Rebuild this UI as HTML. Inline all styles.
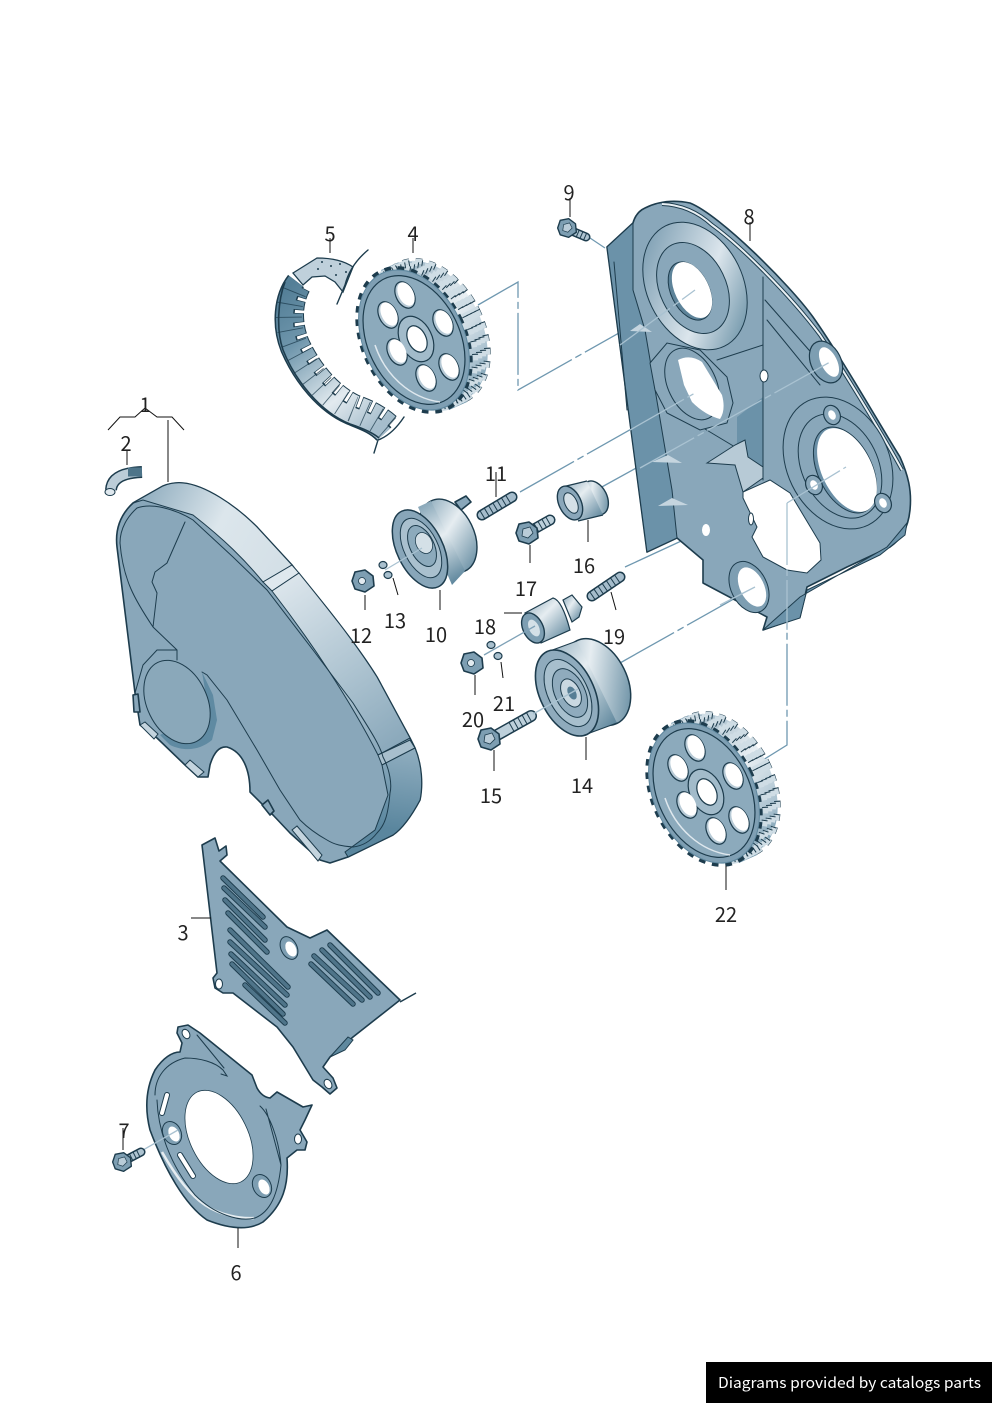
<!DOCTYPE html>
<html>
<head>
<meta charset="utf-8">
<style>
html,body{margin:0;padding:0;background:#fff}
svg{display:block}
.p{fill:#89a7ba;stroke:#1d3c4d;stroke-width:1.6;stroke-linejoin:round}
.l{fill:none;stroke:#1d3c4d;stroke-width:1;stroke-linecap:round}
.k{fill:none;stroke:#111;stroke-width:1}
.c{fill:none;stroke:#6f98b0;stroke-width:1.3;stroke-dasharray:62 4 7 4}
.c2{fill:none;stroke:#a9c2d1;stroke-width:1.3;stroke-dasharray:62 4 7 4}
text.n{font-family:"Noto Sans CJK JP","Liberation Sans",sans-serif;font-size:20px;fill:#222;text-anchor:middle}
</style>
</head>
<body>
<svg width="992" height="1403" viewBox="0 0 992 1403" xmlns="http://www.w3.org/2000/svg">
<defs>
<linearGradient id="rimA" gradientUnits="userSpaceOnUse" x1="140" y1="490" x2="290" y2="570">
<stop offset="0" stop-color="#8dabbd"/><stop offset=".5" stop-color="#dce6ec"/><stop offset="1" stop-color="#d3dfe6"/>
</linearGradient>
<linearGradient id="rimB" gradientUnits="userSpaceOnUse" x1="290" y1="570" x2="410" y2="745">
<stop offset="0" stop-color="#dee7ed"/><stop offset=".55" stop-color="#aec4d1"/><stop offset="1" stop-color="#87a6b9"/>
</linearGradient>
<linearGradient id="rimC" gradientUnits="userSpaceOnUse" x1="410" y1="750" x2="400" y2="830">
<stop offset="0" stop-color="#8fadbf"/><stop offset="1" stop-color="#5a869e"/>
</linearGradient>
<linearGradient id="ring" gradientUnits="userSpaceOnUse" x1="650" y1="240" x2="745" y2="340">
<stop offset="0" stop-color="#7e9fb3"/><stop offset=".55" stop-color="#dbe5ec"/><stop offset="1" stop-color="#5f899f"/>
</linearGradient>
<linearGradient id="gearb" gradientUnits="userSpaceOnUse" x1="410" y1="255" x2="480" y2="405">
<stop offset="0" stop-color="#86a5b8"/><stop offset=".5" stop-color="#e9eff3"/><stop offset=".8" stop-color="#a9c1cf"/><stop offset="1" stop-color="#5c879e"/>
</linearGradient>
<linearGradient id="belt" gradientUnits="userSpaceOnUse" x1="285" y1="290" x2="385" y2="420">
<stop offset="0" stop-color="#547f97"/><stop offset=".3" stop-color="#6f96ac"/><stop offset=".72" stop-color="#e2eaef"/><stop offset="1" stop-color="#a5bdcc"/>
</linearGradient>
<linearGradient id="cyl" x1="0" y1="0" x2="1" y2="1">
<stop offset="0" stop-color="#8caabb"/><stop offset=".4" stop-color="#e6edf1"/><stop offset="1" stop-color="#4f7b93"/>
</linearGradient>
<linearGradient id="cyl10" gradientUnits="userSpaceOnUse" x1="425" y1="505" x2="470" y2="580">
<stop offset="0" stop-color="#8caabb"/><stop offset=".4" stop-color="#e6edf1"/><stop offset="1" stop-color="#4f7b93"/>
</linearGradient>
<g id="gear">
<ellipse cx="432" cy="332" rx="50" ry="75" transform="rotate(-26 432 332)" fill="none" stroke="#1d3c4d" stroke-width="6" stroke-dasharray="6.5 6.6"/>
<ellipse cx="432" cy="332" rx="50" ry="75" transform="rotate(-26 432 332)" fill="url(#gearb)"/>
<polygon points="399,262 467,402 449,410 381,270" fill="url(#gearb)"/>
<g fill="none" stroke-dasharray="6.5 6.6" stroke-width="5">
<ellipse cx="432" cy="332" rx="50" ry="75" transform="rotate(-26 432 332)" stroke="#cfdde5"/>
<ellipse cx="428" cy="334" rx="50" ry="75" transform="rotate(-26 428 334)" stroke="#cfdde5"/>
<ellipse cx="424" cy="336" rx="50" ry="75" transform="rotate(-26 424 336)" stroke="#cfdde5"/>
<ellipse cx="420" cy="338" rx="50" ry="75" transform="rotate(-26 420 338)" stroke="#cfdde5"/>
</g>
<g fill="none" stroke-dasharray="1 12.1" stroke-width="6" stroke="#1d3c4d">
<ellipse cx="432" cy="332" rx="50" ry="73" transform="rotate(-26 432 332)"/>
<ellipse cx="428" cy="334" rx="50" ry="73" transform="rotate(-26 428 334)"/>
<ellipse cx="424" cy="336" rx="50" ry="73" transform="rotate(-26 424 336)"/>
<ellipse cx="420" cy="338" rx="50" ry="73" transform="rotate(-26 420 338)"/>
</g>
<ellipse cx="414" cy="340" rx="50" ry="75" transform="rotate(-26 414 340)" fill="none" stroke="#1d3c4d" stroke-width="6" stroke-dasharray="6.5 6.6"/>
<ellipse cx="414" cy="340" rx="50" ry="74" transform="rotate(-26 414 340)" fill="#7f9fb3" stroke="#5f889f" stroke-width="1"/>
<ellipse cx="414" cy="340" rx="46" ry="68" transform="rotate(-26 414 340)" fill="#8caabc" stroke="#1d3c4d" stroke-width="1.2"/>
<path d="M375,345 C385,375 410,398 440,402" fill="none" stroke="#dfe8ee" stroke-width="1.5"/>
<g stroke="#1d3c4d" stroke-width="1.2" fill="#b7cad6">
<ellipse cx="405" cy="295" rx="9" ry="14" transform="rotate(-26 405 295)"/>
<ellipse cx="388" cy="315" rx="9" ry="14" transform="rotate(-26 388 315)"/>
<ellipse cx="397" cy="352" rx="9" ry="14" transform="rotate(-26 397 352)"/>
<ellipse cx="426" cy="378" rx="9" ry="14" transform="rotate(-26 426 378)"/>
<ellipse cx="449" cy="367" rx="9" ry="14" transform="rotate(-26 449 367)"/>
<ellipse cx="443" cy="323" rx="9" ry="14" transform="rotate(-26 443 323)"/>
<ellipse cx="416" cy="339" rx="16" ry="24" transform="rotate(-26 416 339)" fill="#a2bbca"/>
<ellipse cx="417" cy="339" rx="9" ry="14" transform="rotate(-26 417 339)" fill="#fff"/>
</g>
<g fill="#fff">
<ellipse cx="406" cy="294" rx="7.5" ry="12.5" transform="rotate(-26 406 294)"/>
<ellipse cx="389" cy="314" rx="7.5" ry="12.5" transform="rotate(-26 389 314)"/>
<ellipse cx="398" cy="351" rx="7.5" ry="12.5" transform="rotate(-26 398 351)"/>
<ellipse cx="427" cy="377" rx="7.5" ry="12.5" transform="rotate(-26 427 377)"/>
<ellipse cx="450" cy="366" rx="7.5" ry="12.5" transform="rotate(-26 450 366)"/>
<ellipse cx="444" cy="322" rx="7.5" ry="12.5" transform="rotate(-26 444 322)"/>
</g>
</g>
<g id="hex"><polygon points="-8,-9 2,-11 10,-5 11,5 2,11 -8,8 -11,0" fill="#7d9eb2" stroke="#1d3c4d" stroke-width="1.6" stroke-linejoin="round"/><polygon points="-4,-4 3,-6 6,0 1,5 -5,3" fill="#b9ccd8" stroke="#1d3c4d" stroke-width=".8"/></g>
<g id="nut"><polygon points="-8,-9 2,-11 10,-5 11,5 2,11 -8,8 -11,0" fill="#7d9eb2" stroke="#1d3c4d" stroke-width="1.6" stroke-linejoin="round"/><circle r="3.5" cx="-1" fill="#e2eaef" stroke="#1d3c4d" stroke-width=".8"/></g>
</defs>

<!-- connectors -->
<g>
<polyline class="c" points="478,305 518,282 518,390 695,290"/>
<line class="c" x1="520" y1="492" x2="695" y2="393"/>
<line class="c" x1="600" y1="488" x2="832" y2="360"/>
<line class="c" x1="625" y1="567" x2="705" y2="530"/>
<line class="c" x1="620" y1="663" x2="755" y2="587"/>
<polyline class="c" points="755,765 787,745 787,503"/>
<line x1="590" y1="238" x2="605" y2="248" stroke="#6f98b0" stroke-width="1.2"/>
</g>

<!-- part 8 -->
<path class="p" d="M607,247 L633,223 Q636,212 645,208 Q665,198 690,203 C720,215 790,285 813,317 C840,355 880,425 900,457 C908,475 912,490 910,510 C908,530 900,540 890,547 L847,567 L807,587 L800,617 L763,630 L767,617 L703,583 L703,560 L677,538 L647,552 Z"/>
<polygon points="607,247 633,223 633,290 645,330 672,490 677,538 647,552" fill="#6b92a9" stroke="#1d3c4d" stroke-width="1"/>
<polygon points="737,417 763,397 763,480 737,445" fill="#6b92a9"/>
<polygon points="763,630 800,597 887,547 907,523 905,535 880,555 807,590 800,618" fill="#6b92a9" stroke="#1d3c4d"/>
<path class="l" d="M614,262 L627,410 M763,277 V480 M765,300 L823,366 M767,320 L820,385 M717,360 L763,345 M690,420 L740,450"/>
<path d="M662,204 Q690,205 712,225 C740,245 790,295 820,335 C840,365 880,430 902,470" fill="none" stroke="#1d3c4d" stroke-width="4"/>
<path d="M662,204 Q690,205 712,225 C740,245 790,295 820,335 C840,365 880,430 902,470" fill="none" stroke="#e8eff3" stroke-width="2"/>
<ellipse cx="695" cy="286" rx="48" ry="67" transform="rotate(-26 695 286)" fill="url(#ring)" stroke="#1d3c4d"/>
<ellipse cx="693" cy="288" rx="33" ry="48" transform="rotate(-26 693 288)" fill="#89a7ba" stroke="#1d3c4d"/>
<ellipse cx="690" cy="291" rx="19" ry="31" transform="rotate(-26 690 291)" fill="#5d8399" stroke="#1d3c4d"/>
<ellipse cx="692" cy="290" rx="17" ry="30" transform="rotate(-26 692 290)" fill="#fff"/>
<polygon points="650,363 667,343 700,350 727,377 733,403 727,423 700,430 667,413 655,390" fill="#89a7ba" stroke="#1d3c4d"/>
<ellipse cx="692" cy="384" rx="24" ry="38" transform="rotate(-26 692 384)" fill="none" stroke="#1d3c4d"/>
<path d="M678,360 Q690,354 702,362 L722,395 Q726,410 720,419 Q705,415 692,402 L684,385 Z" fill="#fff"/>
<ellipse cx="838" cy="463" rx="51" ry="69" transform="rotate(-26 838 463)" fill="#89a7ba" stroke="#1d3c4d"/>
<ellipse cx="840" cy="466" rx="38" ry="55" transform="rotate(-26 840 466)" fill="none" stroke="#1d3c4d"/>
<ellipse cx="845" cy="470" rx="27" ry="46" transform="rotate(-26 845 470)" fill="#6a8fa6" stroke="#1d3c4d"/>
<ellipse cx="847" cy="470" rx="25" ry="45" transform="rotate(-26 847 470)" fill="#fff"/>
<g stroke="#1d3c4d" stroke-width="1.2">
<ellipse cx="832" cy="415" rx="8" ry="10" transform="rotate(-26 832 415)" fill="#89a7ba"/><ellipse cx="832" cy="415" rx="3.5" ry="5" transform="rotate(-26 832 415)" fill="#fff" stroke="none"/>
<ellipse cx="814" cy="485" rx="8" ry="10" transform="rotate(-26 814 485)" fill="#89a7ba"/><ellipse cx="814" cy="485" rx="3.5" ry="5" transform="rotate(-26 814 485)" fill="#fff" stroke="none"/>
<ellipse cx="883" cy="503" rx="8" ry="10" transform="rotate(-26 883 503)" fill="#89a7ba"/><ellipse cx="883" cy="503" rx="3.5" ry="5" transform="rotate(-26 883 503)" fill="#fff" stroke="none"/>
<ellipse cx="826" cy="362" rx="15" ry="22" transform="rotate(-26 826 362)" fill="#7d9eb2"/>
</g>
<ellipse cx="829" cy="362" rx="8" ry="16" transform="rotate(-26 829 362)" fill="#fff"/>
<polygon points="743,492 770,480 790,493 820,543 821,560 807,573 787,570 763,557 752,537 757,527 743,498" fill="#fff" stroke="#1d3c4d"/>
<polygon points="707,463 735,445 745,440 748,457 763,467 763,478 743,492 735,465" fill="#b7cad6" stroke="#1d3c4d"/>
<ellipse cx="749" cy="587" rx="18" ry="27" transform="rotate(-26 749 587)" fill="#7d9eb2" stroke="#1d3c4d"/>
<ellipse cx="752" cy="587" rx="12" ry="21" transform="rotate(-26 752 587)" fill="#fff"/>
<ellipse cx="706" cy="530" rx="4" ry="6" fill="#fff"/>
<ellipse cx="764" cy="376" rx="4" ry="6" fill="#fff" stroke="#1d3c4d"/>
<ellipse cx="751" cy="519" rx="2.5" ry="6" fill="#fff" stroke="#1d3c4d"/>
<polygon points="630,331 640,324 652,332" fill="#c5d5df"/>
<polygon points="652,462 668,455 682,463" fill="#c5d5df"/>
<polygon points="658,506 672,498 688,505" fill="#c5d5df"/>
<g>
<line class="c2" x1="620" y1="345" x2="695" y2="290"/>
<line class="c2" x1="630" y1="430" x2="695" y2="393"/>
<line class="c2" x1="640" y1="468" x2="830" y2="362"/>
<line class="c2" x1="787" y1="503" x2="846" y2="467"/>
<line class="c2" x1="720" y1="605" x2="755" y2="587"/>
<line class="c2" x1="787" y1="503" x2="787" y2="630"/>
</g>

<!-- part 5 belt -->
<path d="M296,281 C283,298 281,325 290,348 C303,378 325,404 350,415 C362,420 375,424 384,434" fill="none" stroke="#1d3c4d" stroke-width="20"/>
<path d="M303,288 C294,305 295,325 302,342 C315,370 335,392 356,402 C370,407 382,413 392,422" fill="none" stroke="#1d3c4d" stroke-width="15" stroke-dasharray="10 3"/>
<path d="M296,281 C283,298 281,325 290,348 C303,378 325,404 350,415 C362,420 375,424 384,434" fill="none" stroke="url(#belt)" stroke-width="17"/>
<path d="M303,288 C294,305 295,325 302,342 C315,370 335,392 356,402 C370,407 382,413 392,422" fill="none" stroke="url(#belt)" stroke-width="13" stroke-dasharray="8.6 4.4" stroke-dashoffset="-.7"/>
<path d="M298,283 C287,300 286,325 295,346 C308,374 329,399 353,409 C366,414 378,419 388,428" fill="none" stroke="#1d3c4d" stroke-width="26" stroke-dasharray=".9 12.1" stroke-dashoffset="-9.5" opacity=".75"/>
<path d="M285,282 C278,300 276,330 283,350 C295,380 320,412 350,424 C362,428 372,432 379,438" fill="none" stroke="#1d3c4d" stroke-width="1.6"/>
<path d="M293,273 L317,258 Q340,258 353,267 L343,292 L335,282 L325,276 L312,277 L303,285 Z" fill="#bfd0db" stroke="#1d3c4d" stroke-width="1.3"/>
<g fill="#1d3c4d"><circle cx="322" cy="262" r="1"/><circle cx="331" cy="266" r="1"/><circle cx="340" cy="264" r="1"/><circle cx="346" cy="272" r="1"/><circle cx="336" cy="275" r="1"/><circle cx="318" cy="269" r="1"/></g>
<path class="l" d="M368,250 Q350,265 345,285 L337,304 M404,417 Q392,435 378,440 L374,453" style="stroke-width:1.4"/>

<!-- part 4 gear -->
<use href="#gear"/>
<!-- part 22 gear -->
<use href="#gear" transform="translate(290,453)"/>

<!-- part 1 cover -->
<path class="p" d="M117,547 C115,530 120,515 133,503 L163,486 Q173,482 183,483 C205,485 235,505 257,527 L292,565 L298,573 C325,605 355,642 377,677 L410,738 L415,748 C422,765 423,785 420,800 C412,815 403,828 393,835 L348,857 L330,863 L320,860 L290,833 L273,815 L250,792 C250,770 243,752 227,747 C218,746 213,755 210,765 L208,777 L198,777 L185,765 L157,738 L140,725 L135,693 Z"/>
<path d="M133,503 L163,486 Q173,482 183,483 C205,485 235,505 257,527 L292,565 L263,582 C245,560 225,540 193,515 L143,500 Z" fill="url(#rimA)" stroke="#1d3c4d" stroke-width="1"/>
<path d="M263,582 L292,565 L299,573 L272,591 Z" fill="#dfe8ee" stroke="#1d3c4d" stroke-width="1"/>
<path d="M272,591 L299,573 C325,605 355,642 377,677 L410,738 L378,755 C350,700 310,640 272,591 Z" fill="url(#rimB)" stroke="#1d3c4d" stroke-width="1"/>
<path d="M378,755 L410,740 L415,748 L382,765 Z" fill="#a8bfcd" stroke="#1d3c4d" stroke-width="1"/>
<path d="M382,765 L415,748 C422,765 423,785 420,800 C412,815 403,828 393,835 L348,857 L345,852 L375,830 L388,795 Z" fill="url(#rimC)" stroke="#1d3c4d" stroke-width="1"/>
<path class="l" d="M120,543 C120,528 128,516 137,508 C145,505 155,506 160,507 C175,510 185,515 193,520 L233,557 L267,590 L313,650 L353,703 C370,730 380,745 383,757 C390,770 392,785 390,793 C388,815 385,825 377,833 C370,842 362,846 353,847 C342,846 335,845 327,840 C318,835 308,828 300,820 L280,790 L257,750 L227,700 L207,675 L202,672"/>
<path class="l" d="M120,543 C123,580 135,600 153,627 L177,650 L177,660 M185,522 L167,563 L155,572 L152,582 L157,593 L153,627 M135,693 L143,665 L157,650 L177,650"/>
<path d="M202,672 L213,695 L217,720 L212,740 C200,750 185,752 170,745 L160,735 L190,720 L205,690 Z" fill="#5f8aa2"/>
<ellipse cx="177" cy="702" rx="30" ry="44" transform="rotate(-26 177 702)" fill="#8aa8ba" stroke="#1d3c4d"/>
<polygon points="133,695 138,694 140,712 134,712" class="p"/>
<polygon points="140,725 145,722 158,734 154,739" fill="#c4d4de" stroke="#1d3c4d"/>
<polygon points="185,765 190,760 204,772 198,777" fill="#c4d4de" stroke="#1d3c4d"/>
<polygon points="262,805 268,800 274,811 270,815" class="p"/>
<polygon points="292,830 297,826 322,855 318,861" fill="#c4d4de" stroke="#1d3c4d"/>

<!-- part 2 -->
<path d="M111,490 Q112,473 142,472" fill="none" stroke="#1d3c4d" stroke-width="12"/>
<path d="M111,490 Q112,473 142,472" fill="none" stroke="#bccdd8" stroke-width="9"/>
<path d="M128,472 L142,472" stroke="#4d7489" stroke-width="9"/>
<ellipse cx="110" cy="492" rx="5" ry="3.5" fill="#dfe8ee" stroke="#1d3c4d"/>

<!-- part 3 -->
<polygon class="p" points="202,845 215,838 219,851 226,846 227,855 220,861 287,927 310,938 327,930 400,1000 353,1037 330,1057 323,1067 333,1078 337,1088 330,1094 322,1087 313,1080 293,1047 277,1027 233,993 223,993 215,988 213,978 217,973"/>
<line x1="400" y1="1002" x2="416" y2="993" stroke="#1d3c4d" stroke-width="1.5"/>
<path d="M330,1057 L348,1037 L353,1040 L345,1050 Z" fill="#5f899f" stroke="#1d3c4d"/>
<g stroke="#1d3c4d" stroke-width="5.5" stroke-linecap="round">
<line x1="223" y1="878" x2="263" y2="917"/><line x1="224" y1="888" x2="265" y2="927"/><line x1="225" y1="900" x2="265" y2="940"/><line x1="228" y1="913" x2="267" y2="952"/><line x1="230" y1="930" x2="288" y2="987"/><line x1="230" y1="942" x2="287" y2="995"/><line x1="231" y1="954" x2="285" y2="1005"/><line x1="232" y1="964" x2="283" y2="1014"/><line x1="245" y1="985" x2="285" y2="1023"/>
<line x1="330" y1="945" x2="378" y2="993"/><line x1="322" y1="950" x2="370" y2="997"/><line x1="314" y1="956" x2="362" y2="1000"/><line x1="311" y1="964" x2="353" y2="1004"/>
</g>
<g stroke="#4f7489" stroke-width="3.6" stroke-linecap="round">
<line x1="223" y1="878" x2="263" y2="917"/><line x1="224" y1="888" x2="265" y2="927"/><line x1="225" y1="900" x2="265" y2="940"/><line x1="228" y1="913" x2="267" y2="952"/><line x1="230" y1="930" x2="288" y2="987"/><line x1="230" y1="942" x2="287" y2="995"/><line x1="231" y1="954" x2="285" y2="1005"/><line x1="232" y1="964" x2="283" y2="1014"/><line x1="245" y1="985" x2="285" y2="1023"/>
<line x1="330" y1="945" x2="378" y2="993"/><line x1="322" y1="950" x2="370" y2="997"/><line x1="314" y1="956" x2="362" y2="1000"/><line x1="311" y1="964" x2="353" y2="1004"/>
</g>
<ellipse cx="289" cy="948" rx="8" ry="12" transform="rotate(-26 289 948)" fill="#7d9eb2" stroke="#1d3c4d"/>
<ellipse cx="291" cy="949" rx="5" ry="8" transform="rotate(-26 291 949)" fill="#fff"/>
<ellipse cx="219" cy="984" rx="3.5" ry="5" fill="#fff" stroke="#1d3c4d"/>
<ellipse cx="328" cy="1084" rx="3.5" ry="5" transform="rotate(-30 328 1084)" fill="#fff" stroke="#1d3c4d"/>

<!-- part 6 -->
<path class="p" d="M178,1027 L188,1025 L200,1033 L252,1075 L257,1088 Q262,1097 270,1098 L277,1092 L303,1107 L312,1105 L305,1120 L300,1130 L307,1142 L305,1150 L297,1150 L287,1158 C289,1185 283,1205 263,1222 C250,1230 232,1230 207,1220 C185,1205 165,1170 150,1130 C145,1110 145,1090 155,1070 C163,1058 172,1052 180,1052 L182,1043 L177,1033 Z"/>
<path d="M162,1152 C175,1175 190,1195 205,1205 C220,1215 240,1219 254,1218" fill="none" stroke="#e6edf1" stroke-width="2.5"/>
<path class="l" d="M155,1095 C155,1078 165,1063 185,1058 C200,1058 215,1062 223,1070 L227,1076 L221,1074 M157,1100 C158,1130 170,1165 195,1195 C215,1215 240,1222 255,1218 C270,1212 278,1195 281,1165 C279,1140 270,1115 260,1106 M197,1035 L224,1068 M266,1109 L273,1135 L281,1165"/>
<ellipse cx="219" cy="1137" rx="29" ry="50" transform="rotate(-26 219 1137)" fill="#fff" stroke="#1d3c4d" stroke-width=".8"/>
<ellipse cx="186" cy="1034" rx="3.5" ry="5" transform="rotate(-30 186 1034)" fill="#fff" stroke="#1d3c4d"/>
<ellipse cx="298" cy="1139" rx="3.5" ry="5" fill="#fff" stroke="#1d3c4d"/>
<ellipse cx="172" cy="1133" rx="9" ry="12" transform="rotate(-26 172 1133)" fill="#7d9eb2" stroke="#1d3c4d"/>
<ellipse cx="174" cy="1134" rx="5" ry="8" transform="rotate(-26 174 1134)" fill="#fff"/>
<ellipse cx="262" cy="1186" rx="9" ry="12" transform="rotate(-26 262 1186)" fill="#7d9eb2" stroke="#1d3c4d"/>
<ellipse cx="264" cy="1187" rx="5" ry="8" transform="rotate(-26 264 1187)" fill="#fff"/>
<line x1="167" y1="1095" x2="162" y2="1113" stroke="#1d3c4d" stroke-width="6" stroke-linecap="round"/>
<line x1="167" y1="1095" x2="162" y2="1113" stroke="#fff" stroke-width="4" stroke-linecap="round"/>
<line x1="180" y1="1155" x2="193" y2="1176" stroke="#1d3c4d" stroke-width="6" stroke-linecap="round"/>
<line x1="180" y1="1155" x2="193" y2="1176" stroke="#fff" stroke-width="4" stroke-linecap="round"/>
<line x1="143" y1="1150" x2="178" y2="1130" stroke="#a9c2d1" stroke-width="1.3"/>

<!-- bolts -->
<g stroke-linecap="round">
<line x1="567" y1="229" x2="586" y2="237" stroke="#1d3c4d" stroke-width="9"/><line x1="567" y1="229" x2="586" y2="237" stroke="#adc3d0" stroke-width="6"/>
<line x1="570" y1="230" x2="586" y2="237" stroke="#1d3c4d" stroke-width="7" stroke-dasharray="1 3" stroke-linecap="butt"/>
<line x1="122" y1="1162" x2="141" y2="1152" stroke="#1d3c4d" stroke-width="9"/><line x1="122" y1="1162" x2="141" y2="1152" stroke="#adc3d0" stroke-width="6"/>
<line x1="127" y1="1159" x2="141" y2="1152" stroke="#1d3c4d" stroke-width="7" stroke-dasharray="1 3" stroke-linecap="butt"/>
<line x1="527" y1="533" x2="550" y2="520" stroke="#1d3c4d" stroke-width="11"/><line x1="527" y1="533" x2="550" y2="520" stroke="#bdd0db" stroke-width="8"/>
<line x1="536" y1="528" x2="550" y2="520" stroke="#1d3c4d" stroke-width="9" stroke-dasharray="1 3.5" stroke-linecap="butt"/>
<line x1="490" y1="739" x2="531" y2="716" stroke="#1d3c4d" stroke-width="12"/><line x1="490" y1="739" x2="531" y2="716" stroke="#bdd0db" stroke-width="9"/>
<line x1="511" y1="727" x2="531" y2="716" stroke="#1d3c4d" stroke-width="10" stroke-dasharray="1 4" stroke-linecap="butt"/>
<line x1="482" y1="515" x2="512" y2="497" stroke="#1d3c4d" stroke-width="11"/><line x1="482" y1="515" x2="512" y2="497" stroke="#a5bccb" stroke-width="8"/>
<line x1="482" y1="515" x2="512" y2="497" stroke="#1d3c4d" stroke-width="9" stroke-dasharray="1 4" stroke-linecap="butt"/>
<line x1="592" y1="596" x2="620" y2="577" stroke="#1d3c4d" stroke-width="11"/><line x1="592" y1="596" x2="620" y2="577" stroke="#a5bccb" stroke-width="8"/>
<line x1="592" y1="596" x2="620" y2="577" stroke="#1d3c4d" stroke-width="9" stroke-dasharray="1 4" stroke-linecap="butt"/>
</g>
<use href="#hex" transform="translate(567,228) scale(.85)"/>
<use href="#hex" transform="translate(122,1162) scale(.85)"/>
<use href="#hex" transform="translate(527,533)"/>
<use href="#hex" transform="translate(489,739)"/>
<use href="#nut" transform="translate(363,581)"/>
<use href="#nut" transform="translate(472,663)"/>

<!-- part 10 -->
<polygon points="455,502 466,496 471,502 461,510" class="p"/>
<ellipse cx="448" cy="536" rx="26" ry="39" transform="rotate(-26 448 536)" fill="url(#cyl10)" stroke="#1d3c4d" stroke-width="1.4"/>
<polygon points="418,507 431,501 465,571 452,585" fill="url(#cyl10)"/>
<ellipse cx="420" cy="549" rx="23" ry="42" transform="rotate(-26 420 549)" fill="#88a6b9" stroke="#1d3c4d" stroke-width="1.5"/>
<ellipse cx="421" cy="548" rx="17" ry="32" transform="rotate(-26 421 548)" fill="#a9c0ce" stroke="#1d3c4d"/>
<ellipse cx="422" cy="546" rx="12" ry="22" transform="rotate(-26 422 546)" fill="#8caabc" stroke="#1d3c4d"/>
<ellipse cx="424" cy="543" rx="8" ry="11" transform="rotate(-26 424 543)" fill="#d4e0e7" stroke="#1d3c4d" stroke-width=".8"/>
<line x1="385" y1="570" x2="422" y2="548" stroke="#a9c2d1" stroke-width="1.3"/>
<!-- washers -->
<g fill="#a9c0ce" stroke="#1d3c4d" stroke-width="1.2">
<ellipse cx="383" cy="565" rx="4" ry="3.5"/><ellipse cx="388" cy="575" rx="4" ry="3.5"/>
<ellipse cx="491" cy="645" rx="4" ry="3.5"/><ellipse cx="498" cy="656" rx="4" ry="3.5"/>
</g>

<!-- part 16 -->
<ellipse cx="595" cy="498" rx="12" ry="18" transform="rotate(-26 595 498)" fill="url(#cyl)" stroke="#1d3c4d" stroke-width="1.4"/>
<polygon points="562,487 587,481 603,515 578,521" fill="url(#cyl)"/>
<line x1="562" y1="487" x2="587" y2="481" stroke="#1d3c4d" stroke-width="1.2"/>
<line x1="578" y1="521" x2="603" y2="515" stroke="#1d3c4d" stroke-width="1.2"/>
<ellipse cx="570" cy="503" rx="11" ry="18" transform="rotate(-26 570 503)" fill="#8aa7ba" stroke="#1d3c4d" stroke-width="1.4"/>
<ellipse cx="571" cy="503" rx="6" ry="11" transform="rotate(-26 571 503)" fill="#d4e0e7" stroke="#1d3c4d"/>

<!-- part 18 -->
<path d="M563,600 L572,595 L582,607 L579,617 L572,622 Z" fill="url(#cyl)" stroke="#1d3c4d" stroke-width="1.2"/>
<path d="M525,613 L553,598 Q562,600 570,630 L541,643 Z" fill="url(#cyl)" stroke="#1d3c4d" stroke-width="1.2"/>
<ellipse cx="533" cy="628" rx="10" ry="16" transform="rotate(-26 533 628)" fill="#7d9eb2" stroke="#1d3c4d" stroke-width="1.4"/>
<ellipse cx="534" cy="628" rx="5" ry="9" transform="rotate(-26 534 628)" fill="#d4e0e7"/>
<line x1="484" y1="655" x2="535" y2="626" stroke="#7fa2b7" stroke-width="1.3"/>

<!-- part 14 -->
<ellipse cx="597" cy="682" rx="30" ry="46" transform="rotate(-26 597 682)" fill="url(#cyl)" stroke="#1d3c4d" stroke-width="1.5"/>
<polygon points="547,652 577,641 617,723 587,734" fill="url(#cyl)"/>
<line x1="547" y1="652" x2="577" y2="641" stroke="#1d3c4d"/>
<line x1="587" y1="734" x2="617" y2="723" stroke="#1d3c4d"/>
<ellipse cx="567" cy="693" rx="27" ry="46" transform="rotate(-26 567 693)" fill="#8fabbd" stroke="#1d3c4d" stroke-width="1.6"/>
<ellipse cx="568" cy="693" rx="20" ry="36" transform="rotate(-26 568 693)" fill="#a7bfcd" stroke="#1d3c4d"/>
<ellipse cx="570" cy="693" rx="15" ry="26" transform="rotate(-26 570 693)" fill="#8fabbd" stroke="#1d3c4d"/>
<ellipse cx="571" cy="693" rx="9" ry="15" transform="rotate(-26 571 693)" fill="#c9d8e1" stroke="#1d3c4d"/>
<ellipse cx="572" cy="693" rx="4" ry="7" transform="rotate(-26 572 693)" fill="#567e95"/>
<line x1="533" y1="714" x2="578" y2="689" stroke="#a9c2d1" stroke-width="1.3"/>

<!-- leaders -->
<g class="k">
<polyline points="108,430 120,417 135,417 145,408 157,417 172,417 184,430" class="k"/>
<line x1="168" y1="420" x2="168" y2="482"/>
<line x1="127" y1="450" x2="127" y2="465"/>
<line x1="191" y1="918" x2="211" y2="918"/>
<line x1="413" y1="238" x2="413" y2="253"/>
<line x1="330" y1="238" x2="330" y2="253"/>
<line x1="238" y1="1228" x2="238" y2="1248"/>
<line x1="123" y1="1128" x2="123" y2="1150"/>
<line x1="750" y1="222" x2="750" y2="241"/>
<line x1="570" y1="198" x2="570" y2="217"/>
<line x1="440" y1="590" x2="440" y2="610"/>
<line x1="496" y1="472" x2="496" y2="497"/>
<line x1="365" y1="595" x2="365" y2="610"/>
<line x1="393" y1="578" x2="398" y2="595"/>
<line x1="586" y1="737" x2="586" y2="760"/>
<line x1="494" y1="750" x2="494" y2="771"/>
<line x1="588" y1="520" x2="588" y2="542"/>
<line x1="530" y1="545" x2="530" y2="563"/>
<line x1="504" y1="613" x2="522" y2="613"/>
<line x1="611" y1="592" x2="616" y2="610"/>
<line x1="475" y1="675" x2="475" y2="695"/>
<line x1="501" y1="662" x2="503" y2="678"/>
<line x1="726" y1="866" x2="726" y2="890"/>
</g>

<!-- labels -->
<text class="n" x="145" y="412">1</text>
<text class="n" x="126" y="451">2</text>
<text class="n" x="183" y="940">3</text>
<text class="n" x="413" y="241">4</text>
<text class="n" x="330" y="241">5</text>
<text class="n" x="236" y="1280">6</text>
<text class="n" x="124" y="1138">7</text>
<text class="n" x="749" y="224">8</text>
<text class="n" x="569" y="200">9</text>
<text class="n" x="436" y="642">10</text>
<text class="n" x="496" y="481">11</text>
<text class="n" x="361" y="643">12</text>
<text class="n" x="395" y="628">13</text>
<text class="n" x="582" y="793">14</text>
<text class="n" x="491" y="803">15</text>
<text class="n" x="584" y="573">16</text>
<text class="n" x="526" y="596">17</text>
<text class="n" x="485" y="634">18</text>
<text class="n" x="614" y="644">19</text>
<text class="n" x="473" y="727">20</text>
<text class="n" x="504" y="711">21</text>
<text class="n" x="726" y="922">22</text>

<rect x="706" y="1362" width="286" height="41" fill="#000"/>
<text x="718" y="1388" font-family="'Noto Sans CJK JP','Liberation Sans',sans-serif" font-size="15" fill="#fff" textLength="263" lengthAdjust="spacingAndGlyphs">Diagrams provided by catalogs parts</text>
</svg>
</body>
</html>
